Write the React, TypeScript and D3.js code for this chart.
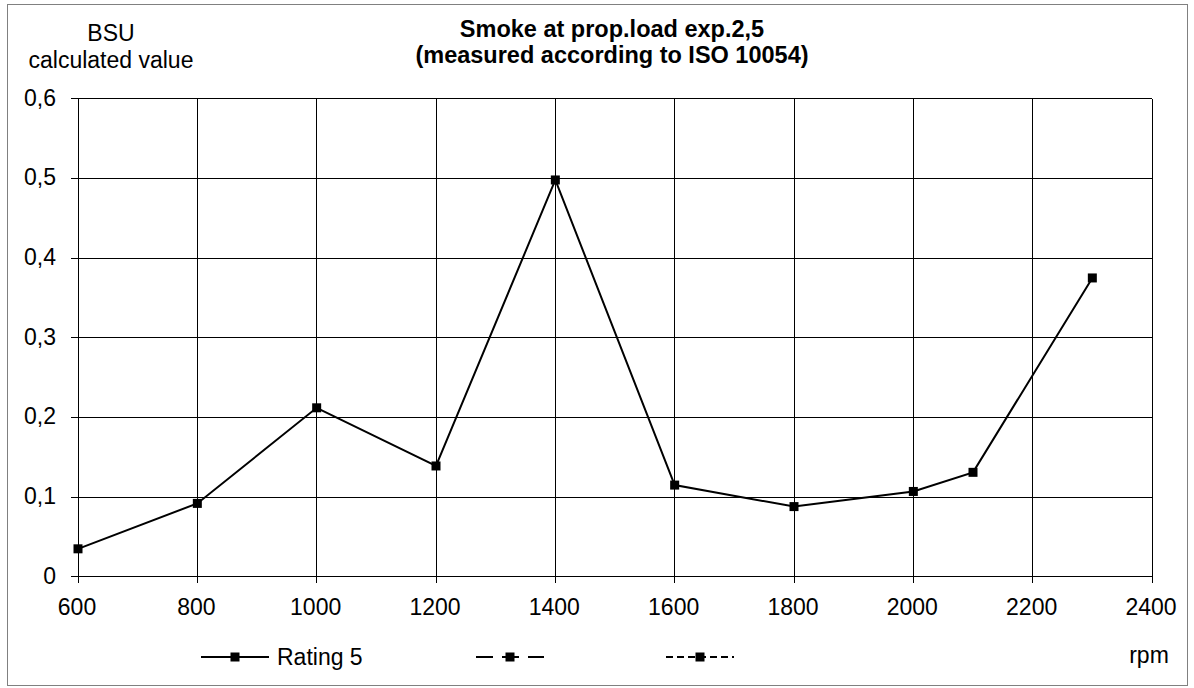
import React from "react";
import * as d3 from "d3";

const rpm = [600, 800, 1000, 1200, 1400, 1600, 1800, 2000, 2100, 2300];
const rating5 = [0.035, 0.092, 0.212, 0.139, 0.498, 0.115, 0.088, 0.107, 0.131, 0.375];
const xTicks = [600, 800, 1000, 1200, 1400, 1600, 1800, 2000, 2200, 2400];
const yTicks = [0, 0.1, 0.2, 0.3, 0.4, 0.5, 0.6];
const legendItems = [
  { label: "Rating 5", dash: "" },
  { label: "", dash: "17,9" },
  { label: "", dash: "7,4" },
];

export default function App() {
  const W = 1194, H = 688;
  const x = d3.scaleLinear().domain([600, 2400]).range([78, 1152]);
  const y = d3.scaleLinear().domain([0, 0.6]).range([576.7, 98.7]);
  const line = d3.line<number>().x((_, i) => x(rpm[i])).y((d) => y(d));
  const font = "'Liberation Sans', Arial, sans-serif";
  const fmt = (v: number) => (v === 0 ? "0" : v.toFixed(1).replace(".", ","));
  const legendX = [201, 476, 666];
  const FS = 23;
  return (
    <svg width={W} height={H} style={{ position: "absolute", left: 0, top: 0 }} fontFamily={font}>
      <rect x={0} y={0} width={W} height={H} fill="#fff" />
      <rect x={7.5} y={4.5} width={1180} height={681} fill="none" stroke="#808080" strokeWidth={1} />
      {xTicks.map((t) => (
        <line key={"gx" + t} x1={x(t)} x2={x(t)} y1={y(0.6)} y2={y(0) + 6} stroke="#000" strokeWidth={1} shapeRendering="crispEdges" />
      ))}
      {yTicks.map((t) => (
        <line key={"gy" + t} x1={x(600) - 7} x2={x(2400)} y1={y(t)} y2={y(t)} stroke="#000" strokeWidth={1} shapeRendering="crispEdges" />
      ))}
      {yTicks.map((t) => (
        <text key={"ty" + t} x={56} y={y(t) + 7} textAnchor="end" fontSize={FS}>{fmt(t)}</text>
      ))}
      {xTicks.map((t) => (
        <text key={"tx" + t} x={x(t) - 1} y={615} textAnchor="middle" fontSize={FS}>{t}</text>
      ))}
      <path d={line(rating5) || ""} fill="none" stroke="#000" strokeWidth={2} />
      {rating5.map((v, i) => (
        <rect key={"m" + i} x={x(rpm[i]) - 4.5} y={y(v) - 4.5} width={9} height={9} fill="#000" />
      ))}
      <text x={111} y={41} textAnchor="middle" fontSize={FS}>BSU</text>
      <text x={111} y={68} textAnchor="middle" fontSize={FS}>calculated value</text>
      <text x={612} y={37} textAnchor="middle" fontSize={23.5} fontWeight="bold">Smoke at prop.load exp.2,5</text>
      <text x={612} y={63} textAnchor="middle" fontSize={23.5} fontWeight="bold">(measured according to ISO 10054)</text>
      {legendItems.map((it, i) => (
        <g key={"l" + i}>
          <line x1={legendX[i]} x2={legendX[i] + 68} y1={657} y2={657} stroke="#000" strokeWidth={2} strokeDasharray={it.dash || undefined} />
          <rect x={legendX[i] + 29.5} y={652.5} width={9} height={9} fill="#000" />
          {it.label ? <text x={legendX[i] + 76} y={665} fontSize={FS}>{it.label}</text> : null}
        </g>
      ))}
      <text x={1149} y={663} textAnchor="middle" fontSize={FS}>rpm</text>
    </svg>
  );
}
